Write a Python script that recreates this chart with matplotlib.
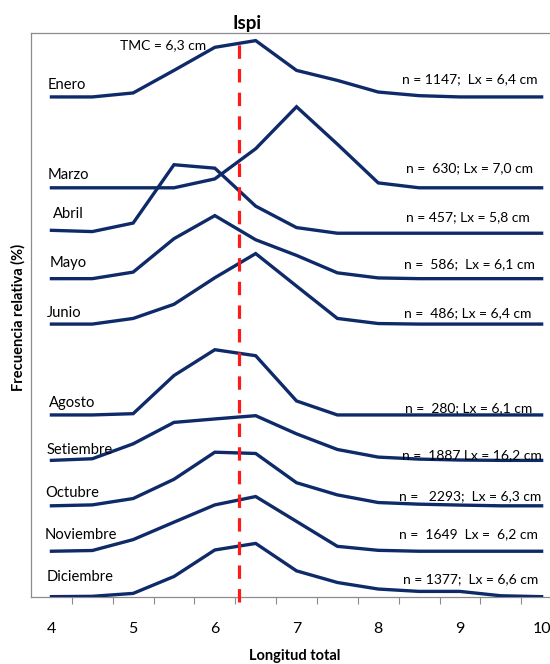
import matplotlib
matplotlib.use("Agg")
import matplotlib.pyplot as plt
import numpy as np

plt.rcParams['font.family'] = ['Lato', 'DejaVu Sans']

# Longitud total (cm), clases cada 0,5 cm
longitud = [4, 4.5, 5, 5.5, 6, 6.5, 7, 7.5, 8, 8.5, 9, 9.5, 10]

meses = ['Enero', 'Marzo', 'Abril', 'Mayo', 'Junio', 'Agosto',
         'Setiembre', 'Octubre', 'Noviembre', 'Diciembre']

# frecuencia relativa (%) por clase de talla
enero = [0, 0, 2.2, 14.6, 27.3, 31.0, 14.6, 9.1, 2.7, 0.7, 0, 0, 0]
marzo = [0, 0, 0, 0, 4.9, 21.5, 44.6, 24.0, 2.7, 0, 0, 0, 0]
abril = [1.6, 0.9, 5.6, 37.7, 35.8, 14.9, 3.1, 0, 0, 0, 0, 0, 0]
mayo = [0, 0, 3.6, 22.0, 34.7, 21.4, 12.8, 3.2, 0.4, 0, 0, 0, 0]
junio = [0, 0, 3.1, 10.9, 25.5, 38.8, 20.9, 3.1, 0.3, 0, 0, 0, 0]
agosto = [0, 0, 0.7, 21.7, 35.9, 32.6, 7.7, 0, 0, 0, 0, 0, 0]
setiembre = [0, 0.9, 9.1, 20.9, 22.8, 24.6, 14.6, 6.0, 1.8, 0.7, 0.2, 0, 0]
octubre = [0, 0.5, 4.0, 14.6, 29.5, 28.8, 12.7, 6.0, 1.8, 0.9, 0.4, 0, 0]
noviembre = [0, 0.4, 6.4, 16.0, 25.5, 30.1, 16.4, 2.7, 0.5, 0, 0, 0, 0]
diciembre = [0, 0.2, 1.8, 11.1, 25.7, 29.3, 14.2, 7.8, 4.2, 2.9, 2.9, 0.5, 0]

# desplazamiento vertical de cada curva (enero arriba, diciembre abajo)
desplazamiento = [275, 225, 200, 175, 150, 100, 75, 50, 25, 0]

rotulos = ['n = 1147;  Lx = 6,4 cm', 'n =  630; Lx = 7,0 cm',
           'n = 457; Lx = 5,8 cm', 'n =  586;  Lx = 6,1 cm',
           'n =  486; Lx = 6,4 cm', 'n =  280; Lx = 6,1 cm',
           'n =  1887 Lx = 16,2 cm', 'n =   2293;  Lx = 6,3 cm',
           'n =  1649  Lx =  6,2 cm', 'n = 1377;  Lx = 6,6 cm']

tmc = 6.3

series = [enero, marzo, abril, mayo, junio, agosto,
          setiembre, octubre, noviembre, diciembre]

# ubicacion de los textos de cada curva
x_mes = [3.95, 3.95, 4.02, 3.98, 3.95, 3.97, 3.94, 3.93, 3.92, 3.94]
dy_mes = [6.4, 7.0, 10.5, 8.7, 6.0, 6.8, 5.5, 6.8, 8.8, 10.6]
x_rot = [9.95, 9.89, 9.86, 9.92, 9.87, 9.89, 10.0, 10.0, 9.96, 9.96]
dy_rot = [9.6, 11.0, 8.6, 8.1, 5.8, 3.7, 3.1, 5.5, 9.2, 9.4]

azul = '#0e2a68'
gris = '#8c8c8c'

fig = plt.figure(figsize=(5.5, 6.64), dpi=100)
ax = fig.add_axes([0.0564, 0.1014, 0.9655, 0.8484])

for i, (mes, y) in enumerate(zip(meses, series)):
    base = desplazamiento[i]
    ax.plot(longitud, np.array(y) + base, color=azul, lw=2.4,
            solid_joinstyle='miter', zorder=3)
    ax.text(x_mes[i], base + dy_mes[i], mes, fontsize=10.6, ha='left',
            va='center', color='black', zorder=4)
    ax.text(x_rot[i], base + dy_rot[i], rotulos[i], fontsize=10,
            ha='right', va='center', color='black', zorder=4)

# talla minima de captura
ax.plot([tmc, tmc], [-2.8, 306], color='#ff1a1a', lw=2.3,
        linestyle=(0, (4.2, 3.2)), zorder=5, clip_on=False)
ax.text(5.89, 303.5, 'TMC = 6,3 cm', fontsize=10, ha='right', va='center')

ax.set_xlim(3.75, 10.25)
ax.set_ylim(0, 310)

ax.set_xticks(np.arange(4, 10.5, 1))
ax.set_xticklabels([str(v) for v in range(4, 11)], fontsize=11.5)
ax.set_xticks(np.arange(4.25, 10.25, 0.5), minor=True)
ax.tick_params(axis='x', which='major', length=0, pad=18)
ax.tick_params(axis='x', which='minor', length=5, color=gris, width=0.8)
ax.set_yticks([])

for lado in ['left', 'top', 'bottom', 'right']:
    ax.spines[lado].set_color(gris)
    ax.spines[lado].set_linewidth(0.9)

fig.text(247 / 550, 1 - 24 / 664, 'Ispi', fontsize=13.5, fontweight='bold',
         ha='center', va='center')
fig.text(295 / 550, 1 - 656 / 664, 'Longitud total', fontsize=10.5,
         fontweight='bold', ha='center', va='center')
fig.text(18 / 550, 1 - 317 / 664, 'Frecuencia relativa (%)', fontsize=10.5,
         fontweight='bold', ha='center', va='center', rotation=90)

fig.savefig('out.png', dpi=100)
